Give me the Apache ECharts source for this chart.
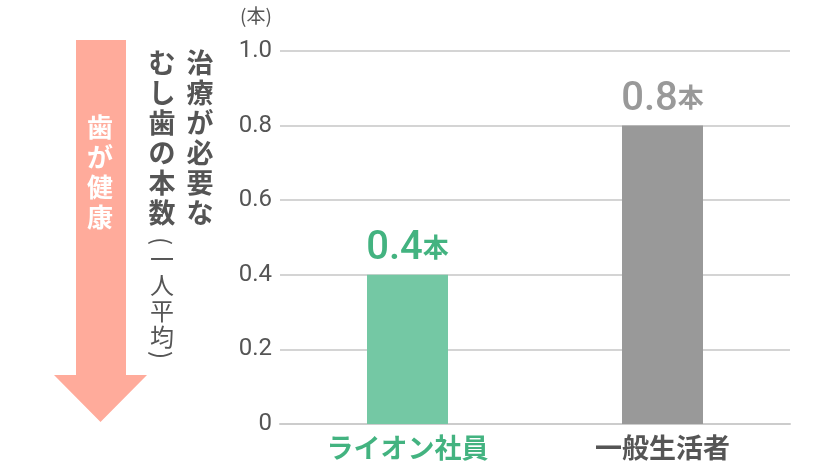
<!DOCTYPE html>
<html><head><meta charset="utf-8">
<script src="https://cdn.jsdelivr.net/npm/echarts@6/dist/echarts.min.js"></script>
<style>html,body{margin:0;padding:0;background:#fff}#c{width:840px;height:473px}</style>
</head><body><div id="c"></div>
<script>
const categories = ['ライオン社員', '一般生活者'];
const values = [0.4, 0.8];
const barColors = ['#74c8a4', '#999999'];
const labelColors = ['#43b380', '#999999'];
const catLabelColors = ['#43b380', '#555555'];
const yTicks = [0, 0.2, 0.4, 0.6, 0.8, 1.0];
const unit = '本';

const JP = '"Noto Sans CJK JP", sans-serif';
const chart = echarts.init(document.getElementById('c'));

const txt = (x, y, text, opt, extra) => Object.assign({
  type: 'text', x, y, silent: true,
  style: Object.assign({ text, fontFamily: JP, fontSize: 26, fontWeight: 'bold', fill: '#555', align: 'center', verticalAlign: 'middle' }, opt)
}, extra || {});

chart.setOption({
  animation: false,
  grid: { left: 280, right: 50, top: 51, bottom: 49 },
  xAxis: {
    type: 'category', data: categories,
    axisTick: { show: false },
    axisLine: { lineStyle: { color: '#cccccc', width: 2 } },
    axisLabel: {
      margin: 10,
      fontFamily: JP, fontSize: 27, fontWeight: 'bold',
      color: (v) => catLabelColors[categories.indexOf(v)]
    }
  },
  yAxis: {
    type: 'value', min: 0, max: 1, interval: 0.2,
    axisLine: { show: false }, axisTick: { show: false },
    splitLine: { lineStyle: { color: '#d4d4d4', width: 2 } },
    axisLabel: {
      margin: 8, fontFamily: 'Roboto, sans-serif', fontSize: 24, color: '#555',
      formatter: v => (v === 0 ? '0' : v.toFixed(1))
    }
  },
  series: [{
    type: 'bar', barWidth: 81,
    data: values.map((v, i) => ({
      value: v,
      itemStyle: { color: barColors[i] },
      label: {
        show: true, position: 'top', distance: 6,
        formatter: '{n|' + v.toFixed(1) + '}{u|' + unit + '}',
        rich: {
          n: { fontFamily: 'Roboto, sans-serif', fontSize: 40, fontWeight: 500, color: labelColors[i] },
          u: { fontFamily: JP, fontSize: 26, fontWeight: 'bold', color: labelColors[i], padding: [0, 0, 4, 0] }
        }
      }
    }))
  }],
  graphic: [
    { type: 'polygon', silent: true,
      shape: { points: [[76,40],[126,40],[126,375],[147,375],[100.5,422],[54,375],[76,375]] },
      style: { fill: '#ffab9b' } },
    txt(100, 112, '歯\nが\n健\n康', { fill: '#ffffff', lineHeight: 30, verticalAlign: 'top', fontSize: 26 }),
    txt(200, 48, '治\n療\nが\n必\n要\nな', { lineHeight: 30, verticalAlign: 'top', fontSize: 27 }),
    txt(162, 48, 'む\nし\n歯\nの\n本\n数', { lineHeight: 30, verticalAlign: 'top', fontSize: 27 }),
    txt(162, 241, '(', { fontWeight: 'normal', fontSize: 24 }, { rotation: -Math.PI / 2 }),
    txt(162, 246, '一\n人\n平\n均', { fontWeight: 'normal', fontSize: 24, lineHeight: 26, verticalAlign: 'top' }),
    txt(162, 355, ')', { fontWeight: 'normal', fontSize: 24 }, { rotation: -Math.PI / 2 }),
    txt(256, 16, '(本)', { fontWeight: 'normal', fontSize: 19 })
  ]
});
</script></body></html>
